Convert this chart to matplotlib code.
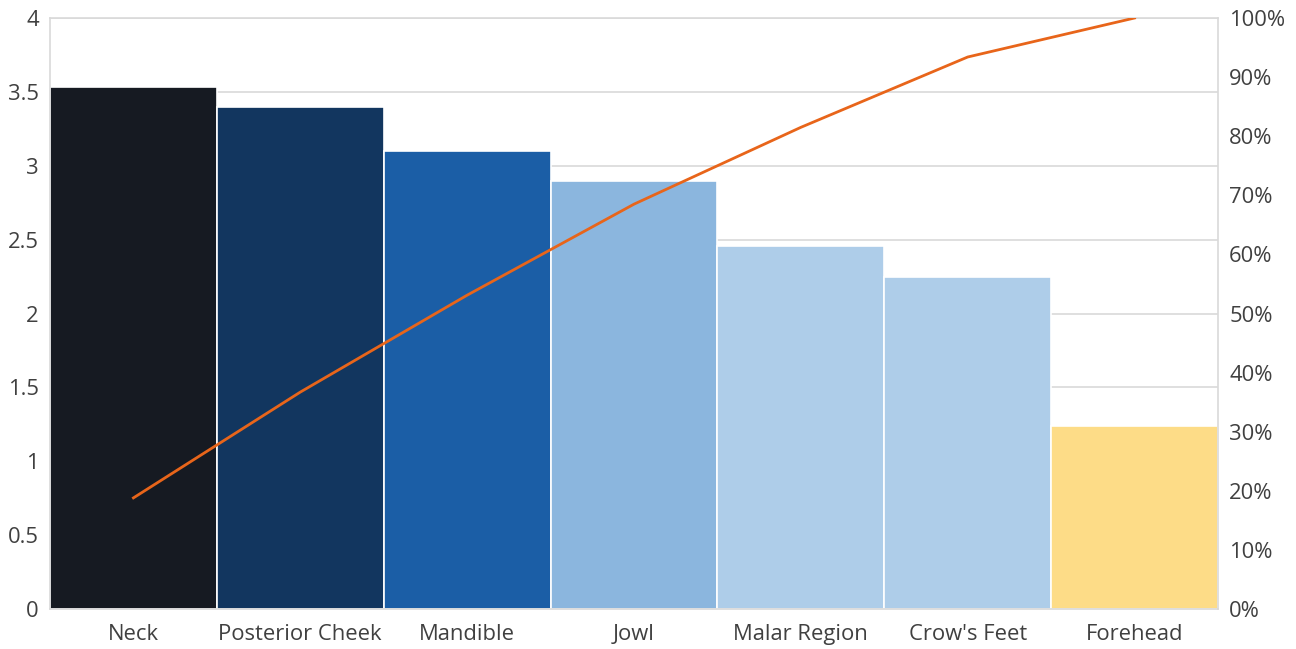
import matplotlib
matplotlib.use("Agg")
import matplotlib.pyplot as plt
from matplotlib.ticker import FuncFormatter

categories = ["Neck", "Posterior Cheek", "Mandible", "Jowl", "Malar Region", "Crow's Feet", "Forehead"]
values = [3.53, 3.40, 3.10, 2.90, 2.46, 2.25, 1.24]
cumulative_pct = [18.8, 36.7, 53.1, 68.5, 81.5, 93.4, 100.0]
bar_colors = ["#161a22", "#12365f", "#1b5ea6", "#8bb6de", "#aecde9", "#aecde9", "#fddc87"]
left_ticks = [0, 0.5, 1, 1.5, 2, 2.5, 3, 3.5, 4]
right_ticks = [0, 10, 20, 30, 40, 50, 60, 70, 80, 90, 100]

plt.rcParams['font.family'] = ['Open Sans', 'DejaVu Sans']
text_color = "#404040"
grid_color = "#d9d9d9"
fs = 15.8

fig = plt.figure(figsize=(12.96, 6.49), dpi=100)
ax = fig.add_axes([50/1296, 1 - 609/649, (1218-50)/1296, (609-18)/649])

x = list(range(len(categories)))
ax.bar(x, values, width=1.0, color=bar_colors, edgecolor="white", linewidth=1.2, zorder=2)
ax.set_xlim(-0.5, len(categories) - 0.5)
ax.set_ylim(0, 4)
ax.set_yticks(left_ticks)
ax.set_yticklabels([f"{t:g}" for t in left_ticks])
ax.set_xticks(x)
ax.set_xticklabels(categories)
ax.grid(axis='y', color=grid_color, linewidth=1.2, zorder=0)
ax.set_axisbelow(True)
for s in ax.spines.values():
    s.set_color(grid_color)
    s.set_linewidth(1.2)
ax.tick_params(axis='both', length=0, labelsize=fs, colors=text_color, pad=8)
ax.tick_params(axis='x', pad=11)

ax2 = ax.twinx()
ax2.plot(x, cumulative_pct, color="#e8651a", linewidth=2.0, zorder=3)
ax2.set_ylim(0, 100)
ax2.set_yticks(right_ticks)
ax2.yaxis.set_major_formatter(FuncFormatter(lambda v, p: f"{v:.0f}%"))
ax2.tick_params(axis='y', length=0, labelsize=fs, colors=text_color, pad=8)
for s in ax2.spines.values():
    s.set_visible(False)

fig.savefig("out.png", dpi=100)
